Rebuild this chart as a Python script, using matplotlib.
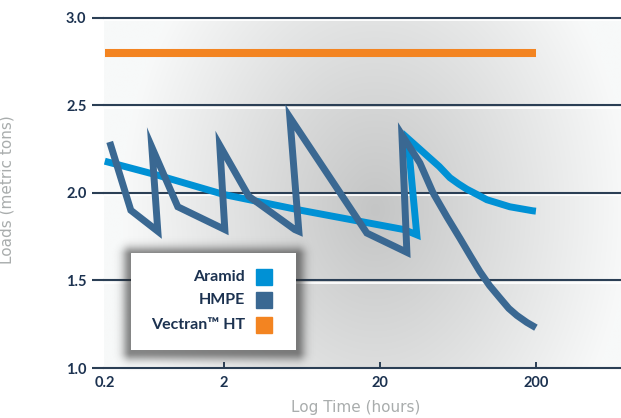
import numpy as np
import matplotlib
matplotlib.use("Agg")
import matplotlib.pyplot as plt
import matplotlib.transforms as mtransforms
from matplotlib.patches import Rectangle

# data (hours, metric tons)
aramid_hours = [0.2, 0.558, 2.0, 6.23, 28.5, 34.5, 30.2, 48.0, 56.2, 64.0, 72.3, 84.0,
                97.1, 115, 136, 191, 200]
aramid_load = [2.18, 2.10, 1.99, 1.90, 1.79, 1.76, 2.31, 2.15, 2.086, 2.05, 2.02, 1.99,
               1.96, 1.94, 1.92, 1.897, 1.895]

hmpe_hours = [0.22, 0.331, 0.558, 0.497, 0.821, 2.03, 1.85, 2.89, 5.70, 6.05, 5.30,
              16.5, 29.8, 27.7, 36.1, 43.8, 54.0, 65.2, 76.0, 87.5, 101, 117.5, 134,
              151, 175, 200]
hmpe_load = [2.29, 1.90, 1.78, 2.26, 1.92, 1.79, 2.27, 1.98, 1.79, 1.78, 2.43,
             1.77, 1.66, 2.33, 2.17, 2.00, 1.86, 1.74, 1.64, 1.55, 1.47, 1.40, 1.34,
             1.30, 1.26, 1.23]

vectran_hours = [0.2, 200]
vectran_load = [2.8, 2.8]

names = ["Aramid", "HMPE", "Vectran\u2122 HT"]
colors = ["#0091d5", "#3a6892", "#f38421"]

x_ticks = [0.2, 2, 20, 200]
x_labels = ["0.2", "2", "20", "200"]
y_ticks = [1.0, 1.5, 2.0, 2.5, 3.0]

NAVY = "#2b3f55"
TEXT = "#1c3250"
GREY = "#a9adad"
FONT = ["Lato", "DejaVu Sans"]

plt.rcParams["font.family"] = FONT

# the time axis is squeezed below 2 hours in the original
L2 = np.log10(2)
K = 119 / 156


def fwd(x):
    l = np.log10(np.clip(x, 1e-9, None))
    return np.where(l >= L2, l, L2 - (L2 - l) * K)


def inv(y):
    y = np.asarray(y, dtype=float)
    return np.where(y >= L2, 10 ** y, 10 ** (L2 - (L2 - y) / K))


fig = plt.figure(figsize=(6.21, 4.18), dpi=100)
ax = fig.add_axes([104 / 621, 50 / 418, 517 / 621, 350.5 / 418])
ax.set_xscale("function", functions=(fwd, inv))
ax.set_xlim(0.197, 702)
ax.set_ylim(1.0, 3.0)

# radial grey background
nx_, ny_ = 400, 300
u, v = np.meshgrid(np.linspace(0, 1, nx_), np.linspace(1, 0, ny_))
t = np.sqrt(((u - 0.525) / 0.49) ** 2 + ((v - 0.45) / 0.95) ** 2)
t = np.clip(t, 0, 1)
shade = (197 + (249 - 197) * t) / 255
img = np.dstack([shade - 0.004, shade, shade])
ax.imshow(img, extent=[0, 1, 0, 1], transform=ax.transAxes, aspect="auto",
          zorder=0, interpolation="bilinear")

for s in ax.spines.values():
    s.set_visible(False)

down = mtransforms.ScaledTranslation(0, -2.5 / 100, fig.dpi_scale_trans)
for yv in y_ticks:
    ax.axhline(yv, color=NAVY, lw=1.5, zorder=1.5, clip_on=False)
    if yv > 1.0:
        ax.plot([0, 1], [yv, yv], color="white", lw=1.3, zorder=1.4,
                transform=ax.get_yaxis_transform() + down)

ax.plot(vectran_hours, vectran_load, color=colors[2], lw=5.8,
        solid_capstyle="butt", zorder=3)
ax.plot(aramid_hours, aramid_load, color=colors[0], lw=5.0,
        solid_capstyle="butt", solid_joinstyle="miter", zorder=3)
ax.plot(hmpe_hours, hmpe_load, color=colors[1], lw=5.0,
        solid_capstyle="butt", solid_joinstyle="miter", zorder=4)

ax.set_xticks(x_ticks)
ax.set_xticklabels(x_labels)
ax.xaxis.set_minor_locator(matplotlib.ticker.NullLocator())
ax.set_yticks(y_ticks)
ax.set_yticklabels(["%.1f" % y for y in y_ticks])
ax.tick_params(axis="x", direction="in", length=4.3, width=1.4, color=NAVY,
               pad=6, labelsize=10.5, labelcolor=TEXT)
ax.tick_params(axis="y", direction="out", length=8.6, width=1.5, color=NAVY,
               pad=4, labelsize=10.5, labelcolor=TEXT)
for lab in ax.get_xticklabels() + ax.get_yticklabels():
    lab.set_fontweight("bold")
ax.xaxis.get_major_ticks()[0].tick1line.set_visible(False)

ax.set_xlabel("Log Time (hours)", fontsize=11, color=GREY, family="DejaVu Sans")
ax.xaxis.set_label_coords(0.487, -0.092)
ax.set_ylabel("Loads (metric tons)", fontsize=11, color=GREY, family="DejaVu Sans")
ax.yaxis.set_label_coords(-0.174, 0.51)

# legend box with a soft shadow
m = 22
bx, by, bw, bh = 131, 253, 165, 97
sh = fig.add_axes([(bx - m) / 621, (418 - by - bh - m) / 418,
                   (bw + 2 * m) / 621, (bh + 2 * m) / 418])
sh.set_axis_off()
W, H = bw + 2 * m, bh + 2 * m
px, py = np.meshgrid(np.arange(W) + 0.5, np.arange(H) + 0.5)
dx = np.clip(np.abs(px - W / 2) - bw / 2, 0, None)
dy = np.clip(np.abs(py - (H / 2 + 2)) - bh / 2, 0, None)
d = np.hypot(dx, dy)
alpha = 0.55 * np.exp(-(d ** 2) / (2 * 6.0 ** 2))
rgba = np.zeros((H, W, 4))
rgba[..., :3] = 0.15
rgba[..., 3] = alpha
sh.imshow(rgba, extent=[0, 1, 0, 1], aspect="auto", interpolation="bilinear")
sh.set_xlim(0, 1)
sh.set_ylim(0, 1)

leg = fig.add_axes([bx / 621, (418 - by - bh) / 418, bw / 621, bh / 418])
leg.set_axis_off()
leg.set_xlim(0, 1)
leg.set_ylim(0, 1)
leg.add_patch(Rectangle((0, 0), 1, 1, color="white", transform=leg.transAxes))
rows = [0.753, 0.515, 0.262]
for name, c, yy in zip(names, colors, rows):
    leg.text(0.691, yy, name, ha="right", va="center", fontsize=11.5,
             fontweight="bold", color=TEXT)
    leg.add_patch(Rectangle((0.758, yy - 0.0825), 0.097, 0.165, color=c))

fig.savefig("out.png", dpi=100)
